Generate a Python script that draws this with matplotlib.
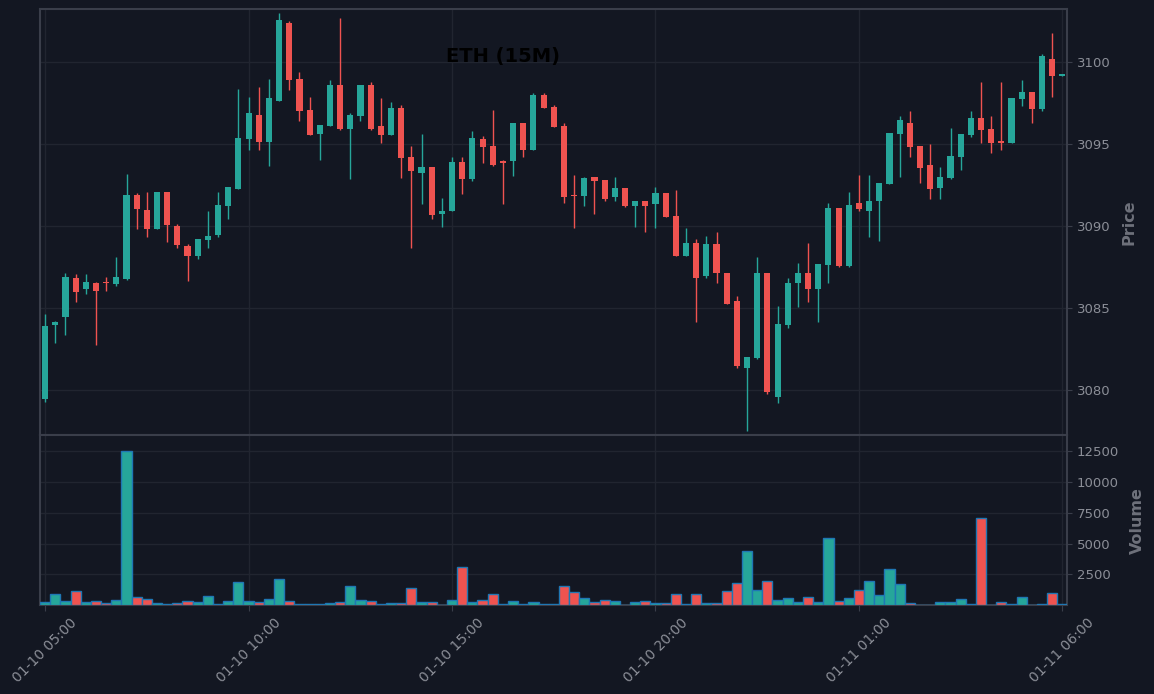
import numpy as np
import pandas as pd
import matplotlib
matplotlib.use("Agg")
import matplotlib.pyplot as plt

# ETH 15 minute candles, 01-10 05:00 -> 01-11 06:00
opens = [3079.45, 3083.96, 3084.45, 3086.81, 3086.16, 3086.50, 3086.55, 3086.46, 3086.77, 3091.87,
         3090.96, 3089.82, 3092.03, 3089.98, 3088.76, 3088.17, 3089.15, 3089.45, 3091.22, 3092.26,
         3095.30, 3096.75, 3095.12, 3097.62, 3102.36, 3098.94, 3097.05, 3095.61, 3096.10, 3098.58,
         3095.91, 3096.71, 3098.58, 3096.08, 3095.55, 3097.17, 3094.19, 3093.23, 3093.58, 3090.73,
         3090.89, 3093.88, 3092.85, 3095.28, 3094.86, 3093.88, 3093.94, 3096.26, 3094.63, 3097.97,
         3097.24, 3096.08, 3091.83, 3091.83, 3092.97, 3092.76, 3091.77, 3092.28, 3091.22, 3091.48,
         3091.34, 3091.97, 3090.57, 3088.17, 3088.98, 3086.95, 3088.86, 3087.15, 3085.41, 3081.34,
         3081.93, 3087.11, 3079.57, 3083.96, 3086.50, 3087.11, 3086.16, 3087.60, 3091.08, 3087.56,
         3091.38, 3090.91, 3091.52, 3092.56, 3095.61, 3096.26, 3094.86, 3093.70, 3092.32, 3092.93,
         3094.21, 3095.55, 3096.57, 3095.89, 3095.10, 3095.06, 3097.74, 3098.15, 3097.11, 3100.16,
         3099.15]
highs = [3084.65, 3084.19, 3087.15, 3087.09, 3087.09, 3086.56, 3086.85, 3088.07, 3093.13, 3091.97,
         3092.03, 3092.03, 3092.03, 3090.08, 3088.86, 3089.19, 3090.93, 3092.03, 3092.36, 3098.31,
         3097.83, 3098.43, 3098.94, 3102.95, 3102.46, 3099.35, 3097.83, 3096.14, 3098.88, 3102.66,
         3096.85, 3098.58, 3098.74, 3097.76, 3097.54, 3097.34, 3094.86, 3095.57, 3093.58, 3091.67,
         3094.17, 3094.17, 3095.77, 3095.47, 3097.05, 3093.98, 3096.26, 3096.26, 3098.07, 3098.07,
         3097.34, 3096.24, 3093.09, 3092.97, 3092.97, 3092.76, 3092.95, 3092.28, 3091.48, 3091.48,
         3092.34, 3091.97, 3092.15, 3089.84, 3089.17, 3089.35, 3089.59, 3087.15, 3085.69, 3081.99,
         3088.09, 3087.11, 3085.10, 3086.79, 3087.76, 3088.98, 3087.66, 3091.36, 3091.08, 3092.03,
         3093.07, 3093.07, 3092.60, 3095.65, 3096.69, 3096.99, 3094.86, 3094.96, 3093.56, 3095.93,
         3095.59, 3096.99, 3098.76, 3096.67, 3098.76, 3097.78, 3098.88, 3098.15, 3100.47, 3101.73,
         3099.20]
lows = [3079.27, 3082.87, 3083.37, 3085.37, 3085.87, 3082.76, 3086.04, 3086.34, 3086.70, 3089.82,
        3089.33, 3089.82, 3089.04, 3088.66, 3086.65, 3087.95, 3088.66, 3089.33, 3090.43, 3092.26,
        3094.63, 3094.63, 3093.66, 3097.62, 3098.29, 3096.40, 3095.55, 3094.02, 3096.10, 3095.83,
        3092.87, 3096.40, 3095.83, 3095.06, 3095.55, 3092.93, 3088.66, 3091.34, 3090.43, 3089.94,
        3090.89, 3091.95, 3092.74, 3093.84, 3093.66, 3091.34, 3093.05, 3094.21, 3094.63, 3097.20,
        3096.04, 3091.36, 3089.84, 3091.18, 3090.69, 3091.52, 3091.54, 3091.16, 3089.94, 3089.59,
        3089.84, 3090.55, 3088.17, 3088.17, 3084.11, 3086.83, 3086.54, 3085.24, 3081.34, 3077.52,
        3081.87, 3079.72, 3079.17, 3083.80, 3085.06, 3085.37, 3084.11, 3086.52, 3087.46, 3087.46,
        3090.87, 3089.29, 3089.07, 3092.56, 3092.95, 3094.17, 3092.62, 3091.65, 3091.65, 3092.87,
        3093.41, 3095.43, 3095.06, 3094.45, 3094.63, 3095.06, 3097.32, 3096.24, 3097.01, 3097.83,
        3099.15]
closes = [3083.88, 3084.13, 3086.87, 3085.98, 3086.57, 3086.04, 3086.52, 3086.87, 3091.87, 3091.04,
          3089.82, 3092.03, 3090.06, 3088.84, 3088.17, 3089.19, 3089.37, 3091.26, 3092.36, 3095.35,
          3096.87, 3095.12, 3097.78, 3102.54, 3098.90, 3097.01, 3095.55, 3096.14, 3098.58, 3095.91,
          3096.75, 3098.58, 3095.91, 3095.55, 3097.17, 3094.15, 3093.35, 3093.58, 3090.67, 3090.89,
          3093.88, 3092.85, 3095.35, 3094.82, 3093.70, 3093.84, 3096.26, 3094.63, 3097.97, 3097.20,
          3096.04, 3091.77, 3091.79, 3092.89, 3092.74, 3091.65, 3092.28, 3091.22, 3091.48, 3091.22,
          3091.97, 3090.55, 3088.17, 3088.98, 3086.83, 3088.86, 3087.13, 3085.24, 3081.46, 3081.99,
          3087.11, 3079.88, 3084.00, 3086.50, 3087.11, 3086.16, 3087.66, 3091.08, 3087.56, 3091.26,
          3091.04, 3091.50, 3092.60, 3095.65, 3096.44, 3094.82, 3093.54, 3092.26, 3092.97, 3094.25,
          3095.59, 3096.57, 3095.85, 3095.06, 3095.06, 3097.78, 3098.15, 3097.13, 3100.35, 3099.15,
          3099.20]
volumes = [300, 945, 378, 1188, 297, 378, 216, 459, 12530, 675,
           540, 216, 100, 216, 378, 297, 783, 100, 378, 1917,
           378, 297, 540, 2160, 378, 100, 100, 80, 216, 297,
           1593, 459, 378, 100, 216, 216, 1431, 297, 297, 50,
           459, 3132, 297, 459, 945, 100, 378, 100, 297, 80,
           80, 1593, 1107, 621, 297, 459, 378, 30, 297, 378,
           216, 216, 945, 100, 945, 216, 216, 1188, 1836, 4428,
           1269, 1998, 459, 621, 297, 702, 297, 5481, 378, 621,
           1269, 1998, 864, 2970, 1755, 216, 30, 30, 297, 297,
           540, 100, 7101, 30, 297, 100, 702, 30, 100, 1026,
           100]

dates = pd.date_range("2025-01-10 05:00", periods=len(opens), freq="15min")

bg = "#131722"
up_col = "#26a69a"
down_col = "#ef5350"
grid_col = "#212530"
spine_col = "#3a3e4a"
text_col = "#8b8e97"

o = np.array(opens)
h = np.array(highs)
l = np.array(lows)
c = np.array(closes)
v = np.array(volumes)
x = np.arange(len(o))
cols = [up_col if cc >= oo else down_col for oo, cc in zip(o, c)]

fig = plt.figure(figsize=(11.54, 6.94), dpi=100, facecolor=bg)
ax = fig.add_axes([0.0347, 0.373, 0.8899, 0.614])
axv = fig.add_axes([0.0347, 0.128, 0.8899, 0.245], sharex=ax)

for a in (ax, axv):
    a.set_facecolor(bg)
    for s in a.spines.values():
        s.set_color(spine_col)
        s.set_linewidth(1.5)
    a.yaxis.tick_right()
    a.yaxis.set_label_position("right")
    a.grid(True, color=grid_col, linewidth=1)
    a.set_axisbelow(True)
    a.tick_params(colors=spine_col, labelcolor=text_col, labelsize=9.5)

# candles
ax.vlines(x, l, h, colors=cols, linewidth=1, zorder=2)
body = np.maximum(np.abs(c - o), 0.08)
ax.bar(x, body, bottom=np.minimum(o, c), width=0.6, color=cols, linewidth=0, zorder=3)

ax.set_xlim(-0.5, len(o) - 0.55)
ax.set_ylim(3077.24, 3103.21)
ax.set_yticks([3080, 3085, 3090, 3095, 3100])
ax.tick_params(axis="x", length=0, labelbottom=False)
ax.set_ylabel("Price", color="#6e717b", fontsize=11.5, fontweight="bold", labelpad=8)

# volume
axv.bar(x, v, width=1.0, color=cols, edgecolor="#1f77b4", linewidth=1, zorder=3)
axv.set_ylim(0.3 * v.min(), 1.1 * v.max())
axv.set_yticks([2500, 5000, 7500, 10000, 12500])
axv.set_ylabel("Volume", color="#6e717b", fontsize=11.5, fontweight="bold", labelpad=8)

tick_idx = list(range(0, len(o), 20))
axv.set_xticks(tick_idx)
axv.set_xticklabels([dates[i].strftime("%m-%d %H:%M") for i in tick_idx],
                    rotation=45, ha="center", fontsize=10)
axv.tick_params(axis="x", length=4)

fig.text(0.436, 0.919, "ETH (15M)", ha="center", va="center",
         fontsize=14, fontweight="bold", color="black")

fig.savefig("out.png", dpi=100, facecolor=bg)
